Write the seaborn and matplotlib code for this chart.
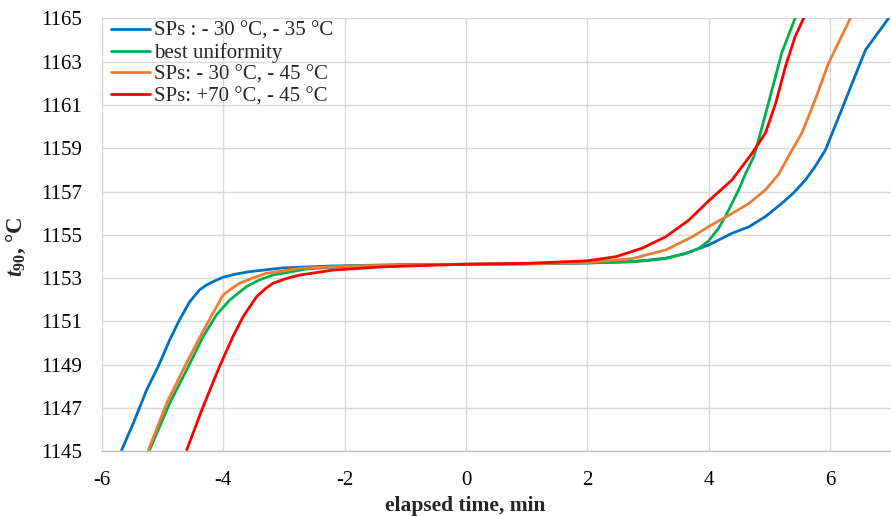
import numpy as np
import pandas as pd
import matplotlib
matplotlib.use("Agg")
import matplotlib.pyplot as plt
import seaborn as sns

series_names = ["SPs : - 30 °C, - 35 °C", "best uniformity",
                "SPs: - 30 °C, - 45 °C", "SPs: +70 °C, - 45 °C"]
colors = ["#0070C0", "#00B050", "#ED7D31", "#FF0000"]

blue_t = [-5.67, -5.48, -5.26, -5.07, -4.88, -4.72, -4.55, -4.39, -4.28, -4.17, -4.00, -3.80, -3.56, -3.02, -2.20, -1.10,
          0.0, 1.0, 2.0, 2.74, 3.01, 3.29, 3.62, 3.99, 4.38, 4.66, 4.93, 5.20, 5.40, 5.59, 5.75, 5.92, 6.14, 6.36, 6.58, 6.96]
blue_v = [1145.06, 1146.29, 1147.83, 1148.91, 1150.14, 1151.06, 1151.91, 1152.45, 1152.67, 1152.83, 1153.04, 1153.18,
          1153.30, 1153.47, 1153.56, 1153.62, 1153.64, 1153.66, 1153.70, 1153.76, 1153.83, 1153.92, 1154.14, 1154.52,
          1155.07, 1155.37, 1155.84, 1156.45, 1156.95, 1157.53, 1158.15, 1158.92, 1160.45, 1162.00, 1163.54, 1165.0]

green_t = [-5.21, -4.88, -4.60, -4.33, -4.11, -3.89, -3.62, -3.40, -3.18, -2.63, -1.92, -1.0,
           0.0, 1.0, 2.0, 2.74, 3.01, 3.29, 3.62, 3.84, 3.99, 4.16, 4.27, 4.38, 4.49, 4.60, 4.74, 4.82, 5.04, 5.20, 5.42]
green_v = [1145.06, 1147.22, 1148.76, 1150.29, 1151.30, 1151.99, 1152.60, 1152.92, 1153.14, 1153.42, 1153.55, 1153.60,
           1153.64, 1153.66, 1153.70, 1153.76, 1153.82, 1153.90, 1154.14, 1154.38, 1154.70, 1155.30, 1155.84, 1156.45,
           1157.07, 1157.80, 1158.61, 1159.40, 1161.70, 1163.40, 1165.0]

orange_t = [-5.23, -4.93, -4.66, -4.38, -4.17, -4.00, -3.86, -3.73, -3.50, -3.29, -2.74, -1.92, -1.0,
            0.0, 1.0, 2.0, 2.74, 3.01, 3.29, 3.73, 3.99, 4.33, 4.66, 4.93, 5.15, 5.37, 5.53, 5.75, 5.97, 6.33]
orange_v = [1145.06, 1147.22, 1148.76, 1150.29, 1151.37, 1152.22, 1152.52, 1152.76, 1153.02, 1153.22, 1153.45, 1153.56,
            1153.60, 1153.64, 1153.66, 1153.72, 1153.90, 1154.10, 1154.30, 1154.91, 1155.37, 1155.90, 1156.45,
            1157.07, 1157.80, 1158.92, 1159.69, 1161.23, 1162.92, 1165.0]

red_t = [-4.60, -4.33, -4.06, -3.84, -3.67, -3.45, -3.30, -3.18, -2.96, -2.74, -2.19, -1.37, -0.5,
         0.0, 1.0, 2.0, 2.47, 2.90, 3.29, 3.67, 3.99, 4.38, 4.71, 4.93, 5.10, 5.26, 5.42, 5.56]
red_v = [1145.06, 1147.06, 1148.91, 1150.29, 1151.22, 1152.14, 1152.52, 1152.76, 1152.98, 1153.14, 1153.37, 1153.52,
         1153.60, 1153.64, 1153.68, 1153.80, 1153.99, 1154.38, 1154.91, 1155.68, 1156.55, 1157.53, 1158.76, 1159.69,
         1161.07, 1162.76, 1164.15, 1165.0]

x_ticks = [-6, -4, -2, 0, 2, 4, 6]
y_ticks = [1145, 1147, 1149, 1151, 1153, 1155, 1157, 1159, 1161, 1163, 1165]

frames = []
for name, t, v in zip(series_names, [blue_t, green_t, orange_t, red_t], [blue_v, green_v, orange_v, red_v]):
    frames.append(pd.DataFrame({"time": t, "temp": v, "series": name}))
df = pd.concat(frames, ignore_index=True)

sns.set_theme(style="white")
plt.rcParams["font.family"] = ["Liberation Serif", "DejaVu Serif"]
plt.rcParams["axes.unicode_minus"] = False
plt.rcParams["mathtext.fontset"] = "custom"
plt.rcParams["mathtext.rm"] = "Liberation Serif"
plt.rcParams["mathtext.it"] = "Liberation Serif:italic"
plt.rcParams["mathtext.bf"] = "Liberation Serif:bold"
plt.rcParams["mathtext.bfit"] = "Liberation Serif:bold:italic"

fig = plt.figure(figsize=(8.91, 5.16), dpi=100)
ax = fig.add_axes([0.1141, 0.1254, 0.8859, 0.8391])

sns.lineplot(data=df, x="time", y="temp", hue="series", hue_order=series_names,
             palette=colors, sort=False, estimator=None, linewidth=2.0, ax=ax)

ax.set_xlim(-6, 7)
ax.set_ylim(1145, 1165)
ax.set_xticks(x_ticks)
ax.set_yticks(y_ticks)
ax.grid(True, color="#d9d9d9", linewidth=1.0)
ax.set_axisbelow(True)
for s in ["top", "right", "left"]:
    ax.spines[s].set_visible(False)
ax.spines["bottom"].set_color("#bfbfbf")
ax.spines["bottom"].set_linewidth(1.0)
ax.tick_params(axis="both", length=0, labelsize=15, colors="black")
ax.tick_params(axis="y", pad=14)
ax.tick_params(axis="x", pad=14)

ax.set_xlabel("elapsed time, min", fontsize=15.5, fontweight="bold", va="center")
ax.xaxis.set_label_coords(0.461, -0.126)
ax.set_ylabel(r"$\mathbfit{t}_{\mathbf{90}}$, °C", fontsize=16.5, fontweight="bold", va="center")
ax.yaxis.set_label_coords(-0.108, 0.472)

leg = ax.legend(loc="upper left", bbox_to_anchor=(0.008, 1.0), frameon=False, fontsize=15,
                handlelength=1.85, handletextpad=0.2, labelspacing=0.1, borderaxespad=0.05, borderpad=0.1)
for line in leg.get_lines():
    line.set_linewidth(2.0)

fig.savefig("out.png", dpi=100)
